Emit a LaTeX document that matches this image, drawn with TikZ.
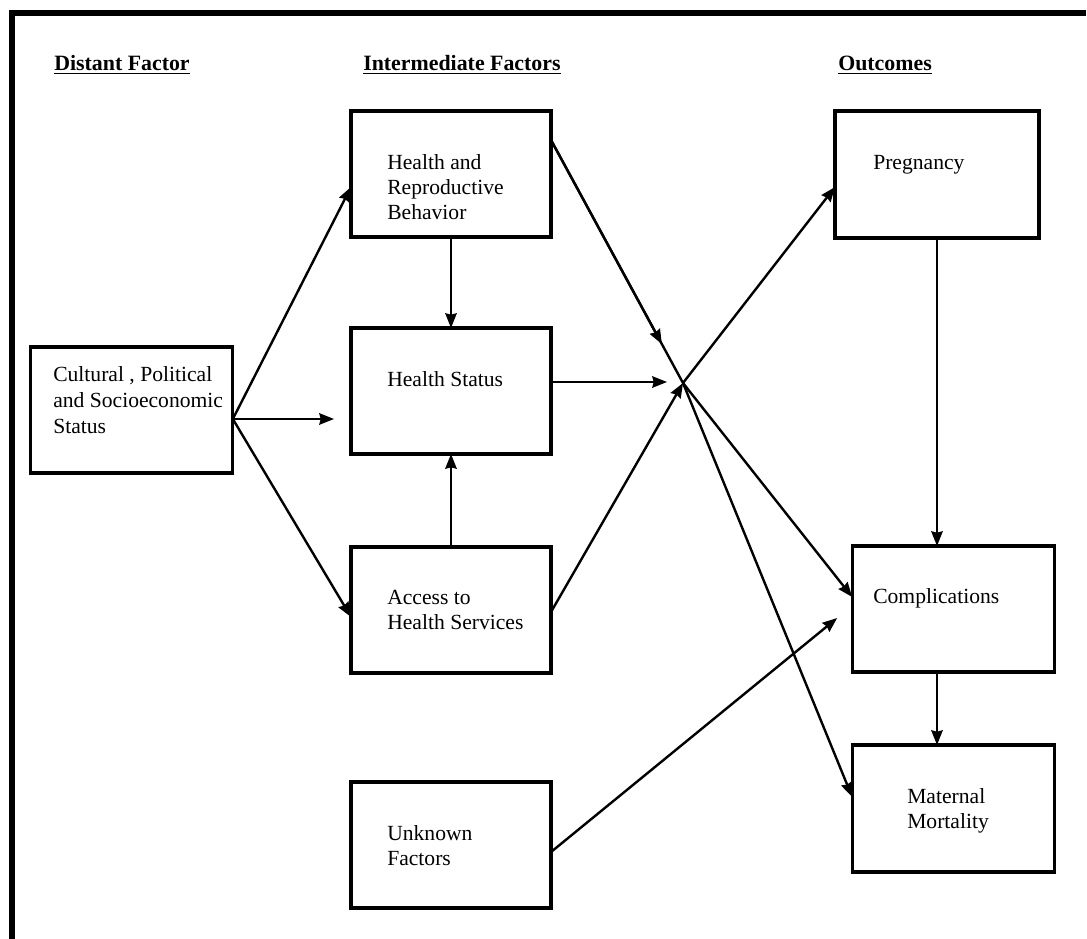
\documentclass[tikz,border=0pt]{standalone}
\usepackage{fontspec}
\setmainfont{Liberation Serif}
\usetikzlibrary{arrows.meta,calc}
\begin{document}
\begin{tikzpicture}[x=0.75pt,y=-0.75pt,
  box/.style={draw,line width=2.4pt,inner sep=0pt,outer sep=0pt,minimum width=150pt,minimum height=94.5pt},
  txt/.style={anchor=base west,align=left,inner sep=0pt,font=\fontsize{16.2}{18.75}\selectfont},
  head/.style={anchor=base west,inner sep=0pt,font=\fontsize{16.4}{19}\selectfont\bfseries},
  arr/.style={line width=1.8pt,-{Stealth[length=11pt,width=8.5pt,inset=1pt]}},
  ln/.style={line width=1.8pt}]
\useasboundingbox (0,0) rectangle (1087,938);
% frame
\draw[line width=4pt] (12,940) -- (12,13) -- (1086,13);
% headings
\node[head] (h1) at (54,71) {\underline{Distant Factor}};
\node[head] (h2) at (363,71) {\underline{Intermediate Factors}};
\node[head] (h3) at (838,71) {\underline{Outcomes}};
% boxes
\node[box,minimum width=152pt] (cps) at (131.5,410) {};
\node[box] (hrb) at (451,174) {};
\node[box] (hs) at (451,391) {};
\node[box] (acc) at (451,610) {};
\node[box] (unk) at (451,845) {};
\node[box,minimum width=153pt,minimum height=95.25pt] (preg) at (937,174.5) {};
\node[box,minimum width=152pt] (comp) at (953.5,609) {};
\node[box,minimum width=152pt,minimum height=95.25pt] (mm) at (953.5,808.5) {};
% texts (base anchor = baseline of last line)
\node[txt,font=\fontsize{16.2}{19.5}\selectfont] (tcps) at (53,433) {Cultural , Political\\and Socioeconomic\\Status};
\node[txt] (thrb) at (387,219) {Health and\\Reproductive\\Behavior};
\node[txt] (ths) at (387,386) {Health Status};
\node[txt] (tacc) at (387,629) {Access to\\Health Services};
\node[txt] (tunk) at (387,865) {Unknown\\Factors};
\node[txt] (tpreg) at (873,169) {Pregnancy};
\node[txt] (tcomp) at (873,603) {Complications};
\node[txt] (tmm) at (907,828) {Maternal\\Mortality};
% coordinates
\coordinate (J) at (683,383);
\coordinate (cpsO) at ($(cps.east)+(0,9)$);
\coordinate (hsIn) at ($(hs.west)+(-17,28)$);
\coordinate (hrbO) at ($(hrb.east)+(0,-34)$);
\coordinate (hsO) at ($(hs.east)+(0,-9)$);
\coordinate (hsEnd) at ($(hs.east)+(116,-9)$);
\coordinate (compIn) at ($(comp.west)+(-15,9)$);
% connectors
\draw[arr] (cpsO) -- ($(hrb.west)+(0,13)$);
\draw[arr] (cpsO) -- (hsIn);
\draw[arr] (cpsO) -- ($(acc.west)+(0,7)$);
\draw[arr] (hrb.south) -- (hs.north);
\draw[arr] (acc.north) -- (hs.south);
\draw[ln] (hrbO) -- (J);
\draw[arr] (hrbO) -- ($(hrbO)!0.84!(J)$);
\draw[arr] (hsO) -- (hsEnd);
\draw[arr] ($(acc.east)+(0,2)$) -- (J);
\draw[arr] (J) -- ($(preg.west)+(0,12.5)$);
\draw[arr] (J) -- ($(comp.west)+(0,-12)$);
\draw[arr] (J) -- ($(mm.west)+(0,-11.5)$);
\draw[arr] ($(unk.east)+(0,7)$) -- (compIn);
\draw[arr] (preg.south) -- (preg.south |- comp.north);
\draw[arr] (preg.south |- comp.south) -- (preg.south |- mm.north);
\end{tikzpicture}
\end{document}
